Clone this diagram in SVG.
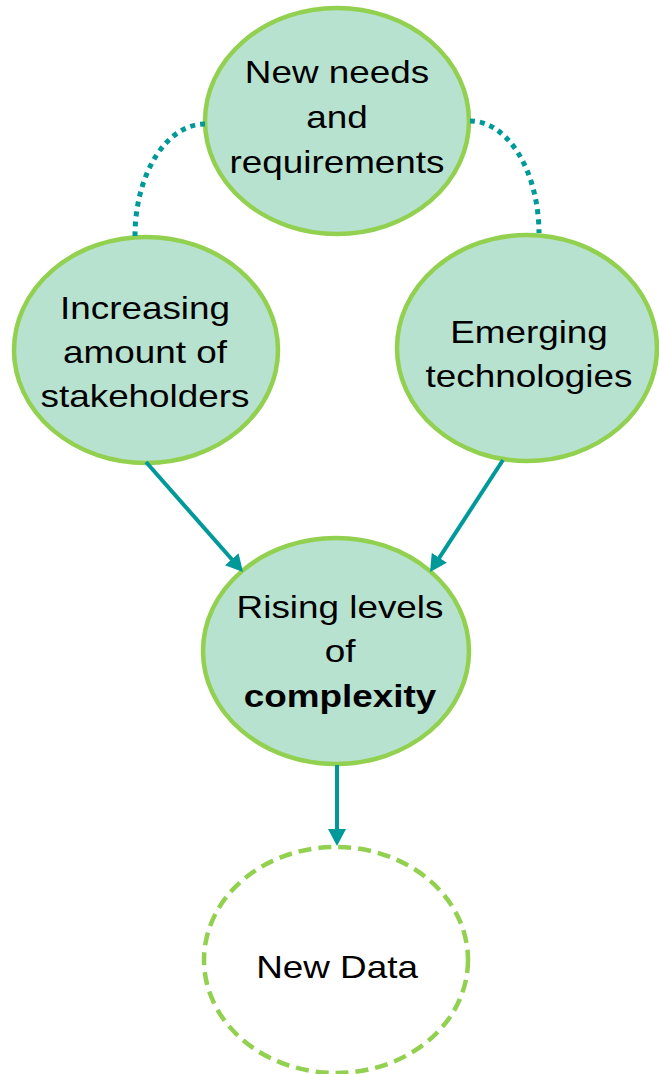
<svg xmlns="http://www.w3.org/2000/svg" width="659" height="1074" viewBox="0 0 659 1074">
  <defs>
    <style>
      .node { fill: #B8E2D0; stroke: #92D050; stroke-width: 4.5; }
      .open { fill: #FFFFFF; stroke: #92D050; stroke-width: 4.5; stroke-dasharray: 13 7; }
      .label { font-family: "Liberation Sans", Arial, sans-serif; font-size: 31.5px; fill: #000000; text-anchor: middle; }
      .bold { font-weight: bold; }
      .link { fill: none; stroke: #009999; stroke-width: 4; }
      .dotted { fill: none; stroke: #009999; stroke-width: 5; stroke-dasharray: 5 5; }
    </style>
    <marker id="head" markerUnits="userSpaceOnUse" markerWidth="17" markerHeight="18" refX="7" refY="9" orient="auto">
      <path d="M0,0 L17,9 L0,18 z" fill="#009999"/>
    </marker>
  </defs>

  <g id="needs">
    <ellipse class="node" cx="337" cy="121" rx="132" ry="113"/>
    <g transform="translate(337,0) scale(1.17,1)">
      <text class="label" x="0" y="83">New needs</text>
      <text class="label" x="0" y="128">and</text>
      <text class="label" x="0" y="173">requirements</text>
    </g>
  </g>

  <g id="stakeholders">
    <ellipse class="node" cx="146" cy="350" rx="132" ry="113"/>
    <g transform="translate(145,0) scale(1.17,1)">
      <text class="label" x="0" y="319">Increasing</text>
      <text class="label" x="0" y="363">amount of</text>
      <text class="label" x="0" y="407">stakeholders</text>
    </g>
  </g>

  <g id="technologies">
    <ellipse class="node" cx="527" cy="348" rx="130" ry="113"/>
    <g transform="translate(529,0) scale(1.17,1)">
      <text class="label" x="0" y="343">Emerging</text>
      <text class="label" x="0" y="387">technologies</text>
    </g>
  </g>

  <g id="complexity">
    <ellipse class="node" cx="336" cy="651" rx="133" ry="113"/>
    <g transform="translate(340,0) scale(1.17,1)">
      <text class="label" x="0" y="618">Rising levels</text>
      <text class="label" x="0" y="662">of</text>
      <text class="label bold" x="0" y="707">complexity</text>
    </g>
  </g>

  <g id="newdata">
    <ellipse class="open" cx="336" cy="960" rx="132" ry="113"/>
    <g transform="translate(337,0) scale(1.17,1)">
      <text class="label" x="0" y="978">New Data</text>
    </g>
  </g>

  <g id="connectors">
    <path class="dotted" d="M205,124 A70,112 0 0 0 135,236"/>
    <path class="dotted" d="M470,121 A69,113 0 0 1 539,233"/>
    <line class="link" x1="146" y1="462" x2="236.4" y2="564.5" marker-end="url(#head)"/>
    <line class="link" x1="503" y1="460" x2="435.5" y2="563.6" marker-end="url(#head)"/>
    <line class="link" x1="337" y1="765" x2="337" y2="836" marker-end="url(#head)"/>
  </g>
</svg>
